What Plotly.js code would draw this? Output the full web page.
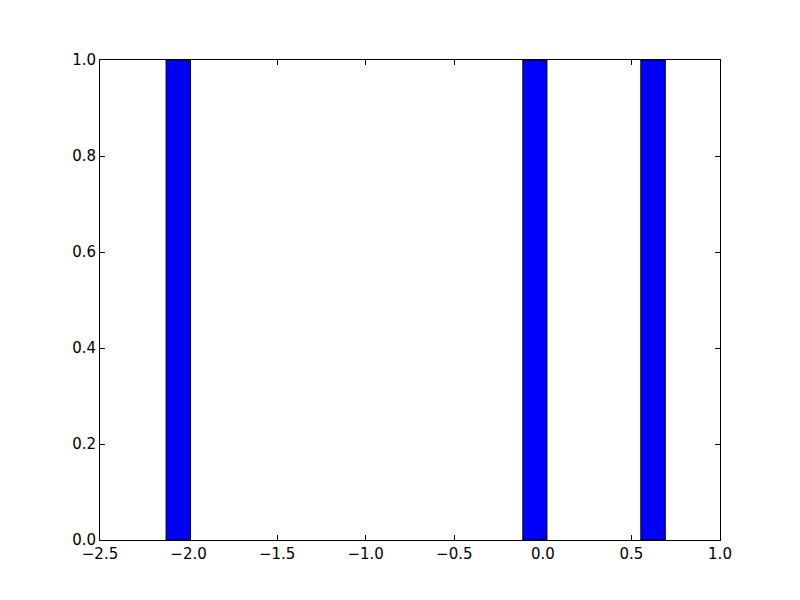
<!DOCTYPE html>
<html>
<head>
<meta charset="utf-8">
<script src="https://cdn.plot.ly/plotly-3.0.1.min.js"></script>
<style>html,body{margin:0;padding:0;background:#fff;}#chart{width:800px;height:600px;}</style>
</head>
<body>
<div id="chart"></div>
<script>
// Histogram bins (left edge, right edge) and counts
const binLeft = [-2.127, -0.113, 0.553];
const binRight = [-1.989, 0.023, 0.691];
const counts = [1, 1, 1];

const xTickVals = [-2.5, -2.0, -1.5, -1.0, -0.5, 0.0, 0.5, 1.0];
const xTickText = ['\u22122.5', '\u22122.0', '\u22121.5', '\u22121.0', '\u22120.5', '0.0', '0.5', '1.0'];
const yTickVals = [0.0, 0.2, 0.4, 0.6, 0.8, 1.0];
const yTickText = ['0.0', '0.2', '0.4', '0.6', '0.8', '1.0'];

const centers = binLeft.map((l, i) => (l + binRight[i]) / 2);
const widths = binLeft.map((l, i) => binRight[i] - l);

const trace = {
  type: 'bar',
  x: centers,
  y: counts,
  width: widths,
  marker: { color: '#0000ff', line: { color: '#000000', width: 1 } },
  hoverinfo: 'skip'
};

const axisCommon = {
  showgrid: false,
  zeroline: false,
  showline: true,
  linecolor: '#000',
  linewidth: 1,
  mirror: 'allticks',
  ticks: 'inside',
  ticklen: 5,
  tickwidth: 1,
  tickcolor: '#000',
  tickfont: { family: 'DejaVu Sans', size: 15, color: '#000' }
};

const layout = {
  width: 800,
  height: 600,
  margin: { l: 100, r: 80, t: 60, b: 60 },
  paper_bgcolor: '#fff',
  plot_bgcolor: '#fff',
  showlegend: false,
  bargap: 0,
  xaxis: Object.assign({}, axisCommon, {
    range: [-2.5, 1.0],
    tickmode: 'array',
    tickvals: xTickVals,
    ticktext: xTickText
  }),
  yaxis: Object.assign({}, axisCommon, {
    range: [0, 1.0],
    tickmode: 'array',
    tickvals: yTickVals,
    ticktext: yTickText
  })
};

Plotly.newPlot('chart', [trace], layout, { displayModeBar: false, staticPlot: true });
</script>
</body>
</html>
